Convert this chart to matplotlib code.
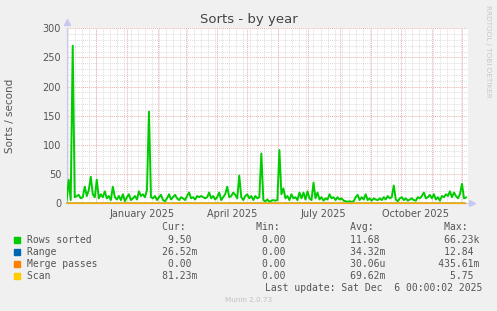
import matplotlib
matplotlib.use("Agg")
import matplotlib.pyplot as plt
import matplotlib.dates as mdates
from matplotlib.patches import Rectangle
import pandas as pd

# data: daily averages, one value every 2 days from 2 Nov 2024
start_date = "2024-11-02"
rows_sorted = [
    5, 40, 5, 270, 10, 12, 14, 8, 10, 28, 12, 22, 45, 15, 10, 40, 8, 15, 10, 20,
    8, 12, 5, 28, 10, 6, 12, 5, 15, 3, 10, 15, 5, 8, 12, 6, 20, 12, 15, 10,
    22, 157, 10, 8, 12, 5, 10, 14, 5, 3, 8, 15, 6, 10, 14, 8, 5, 10, 8, 5,
    12, 18, 8, 10, 6, 12, 10, 12, 10, 8, 10, 18, 8, 12, 6, 10, 18, 5, 10, 15,
    28, 10, 12, 18, 14, 8, 47, 10, 5, 12, 15, 8, 12, 5, 12, 8, 10, 85, 5, 3,
    6, 2, 4, 5, 4, 5, 91, 15, 25, 8, 12, 5, 15, 8, 10, 5, 18, 8, 18, 6,
    20, 8, 5, 35, 8, 18, 6, 10, 4, 8, 6, 15, 8, 10, 5, 10, 6, 8, 4, 3,
    2, 3, 2, 3, 10, 14, 5, 10, 6, 15, 5, 8, 4, 8, 6, 5, 8, 5, 10, 6,
    12, 8, 10, 30, 6, 3, 8, 10, 5, 8, 4, 6, 8, 5, 4, 10, 8, 12, 18, 8,
    10, 14, 8, 15, 6, 10, 4, 12, 10, 15, 12, 20, 10, 18, 12, 8, 15, 33, 8, 9.5,
]

# the other three series stay near zero on this scale
aux_dates = ["2024-11-02", "2025-01-01", "2025-03-01", "2025-05-01",
             "2025-07-01", "2025-09-01", "2025-11-01", "2025-12-04"]
range_vals = [0.03, 0.04, 0.03, 0.02, 0.04, 0.03, 0.05, 0.03]
merge_vals = [0.0, 0.0, 0.0, 0.0, 0.0, 0.0, 0.0, 0.0]
scan_vals = [0.07, 0.06, 0.08, 0.07, 0.06, 0.07, 0.08, 0.08]

names = ["Rows sorted", "Range", "Merge passes", "Scan"]
colors = ["#00CC00", "#0066B3", "#FF8000", "#FFCC00"]
cur = ["9.50", "26.52m", "0.00", "81.23m"]
mins = ["0.00", "0.00", "0.00", "0.00"]
avgs = ["11.68", "34.32m", "30.06u", "69.62m"]
maxs = ["66.23k", "12.84", "435.61m", "5.75"]

W, H = 497, 311
fig = plt.figure(figsize=(W / 100, H / 100), dpi=100, facecolor="#F0F0F0")
ax = fig.add_axes([66.7 / W, 1 - 203 / H, (468 - 66.7) / W, (203 - 28.3) / H])
ax.set_facecolor("white")

x0 = pd.Timestamp(start_date)
x1 = pd.Timestamp("2025-12-07")
ax.set_xlim(x0, x1)
ax.set_ylim(0, 300)

# grid like rrdtool: gray dotted minor, red dotted major
minor_c = "#DDDDDD"
major_c = "#EBB0B0"
dot = (0, (1, 1))
for y in range(10, 301, 10):
    if y % 50:
        ax.axhline(y, color=minor_c, lw=0.7, ls=dot, zorder=0.5)
for d in pd.date_range(x0, x1, freq="W-SUN"):
    ax.axvline(d, color=minor_c, lw=0.7, ls=dot, zorder=0.5)
for y in range(50, 301, 50):
    ax.axhline(y, color=major_c, lw=0.7, ls=dot, zorder=0.6)
for d in pd.date_range(x0, x1, freq="MS"):
    ax.axvline(d, color=major_c, lw=0.7, ls=dot, zorder=0.6)

dates = pd.date_range(start_date, periods=len(rows_sorted), freq="2D")
ax.plot(dates, rows_sorted, color=colors[0], lw=1.4, zorder=3)
aux = pd.to_datetime(aux_dates)
for vals, c in zip([range_vals, merge_vals, scan_vals], colors[1:]):
    ax.plot(aux, vals, color=c, lw=0.8, zorder=3, clip_on=False)

ax.set_yticks(range(0, 301, 50))
ax.xaxis.set_major_locator(mdates.MonthLocator(bymonth=[1, 4, 7, 10], bymonthday=16))
ax.xaxis.set_major_formatter(mdates.DateFormatter("%B %Y"))
ax.tick_params(length=0, labelsize=7, colors="#555555")
ax.tick_params(axis="y", pad=4)
ax.tick_params(axis="x", pad=4)

for s in ["top", "right"]:
    ax.spines[s].set_visible(False)
for s in ["left", "bottom"]:
    ax.spines[s].set_color("#C8C8F0")
    ax.spines[s].set_linewidth(0.8)
ax.plot([0], [1.035], marker="^", ms=4, color="#C8C8F0", transform=ax.transAxes, clip_on=False)
ax.plot([1.01], [0], marker=">", ms=4, color="#C8C8F0", transform=ax.transAxes, clip_on=False)

fig.text(248.5 / W, 1 - 20 / H, "Sorts - by year", ha="center", va="center",
         fontsize=9.5, color="#444444")
fig.text(10 / W, 1 - 115.6 / H, "Sorts / second", rotation=90, ha="center", va="center",
         fontsize=7.5, color="#555555")
fig.text(488 / W, 1 - 5 / H, "RRDTOOL / TOBI OETIKER", rotation=270, ha="center", va="top",
         fontsize=5.2, color="#C8C8C8")

# legend, monospace columns
mono = dict(family="DejaVu Sans Mono", fontsize=7.07, color="#555555", va="center")
lx = 26.7 / W
header = " " * 23 + "Cur:" + " " * 12 + "Min:" + " " * 12 + "Avg:" + " " * 12 + "Max:"
fig.text(lx, 1 - 227.5 / H, header, **mono)


def field(v):
    if v[-1].isalpha():
        return f"{v[:-1]:>6}{v[-1]}"
    return f"{v:>6} "


row_y = [240, 251.9, 263.8, 275.7]
for i, name in enumerate(names):
    line = f"{name:<22}" + (" " * 9).join(field(v) for v in [cur[i], mins[i], avgs[i], maxs[i]])
    fig.text(lx, 1 - row_y[i] / H, line, **mono)
    fig.patches.append(Rectangle((14 / W, 1 - (row_y[i] + 3) / H), 6 / W, 6 / H,
                                 color=colors[i], transform=fig.transFigure))

fig.text(482.5 / W, 1 - 288 / H, "Last update: Sat Dec  6 00:00:02 2025", ha="right", **mono)
fig.text(248.5 / W, 1 - 300.5 / H, "Munin 2.0.73", ha="center", va="center",
         fontsize=5.2, color="#C0C0C0")

fig.savefig("out.png", dpi=100, facecolor=fig.get_facecolor())
